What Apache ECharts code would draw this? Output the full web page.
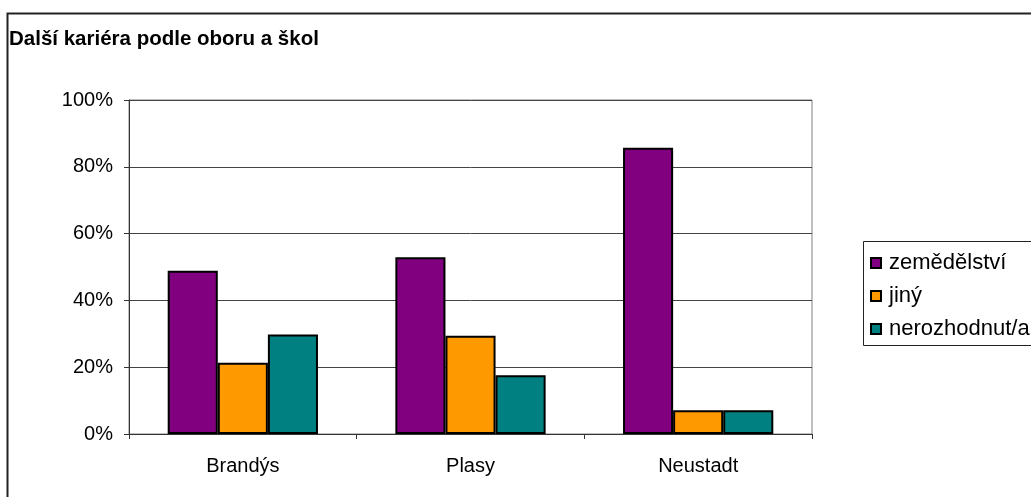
<!DOCTYPE html>
<html>
<head>
<meta charset="utf-8">
<script src="https://cdn.jsdelivr.net/npm/echarts@6/dist/echarts.min.js"></script>
<style>
  html, body { margin: 0; padding: 0; background: #fff; }
  #chart { width: 1031px; height: 497px; }
</style>
</head>
<body>
<div id="chart"></div>
<script>
  // kategorie (školy)
  var schools = ["Brandýs", "Plasy", "Neustadt"];
  // řady v procentech
  var zemedelstvi = [48.9, 52.9, 85.7];
  var jiny = [21.3, 29.4, 7.1];
  var nerozhodnut = [29.8, 17.6, 7.1];
  var seriesNames = ["zemědělství", "jiný", "nerozhodnut/a"];
  var colors = ["#800080", "#FF9900", "#008080"];
  var yTicks = [0, 20, 40, 60, 80, 100];

  var font = "Arial, 'Liberation Sans', sans-serif";
  var myChart = echarts.init(document.getElementById("chart"));

  var values = [zemedelstvi, jiny, nerozhodnut];
  var series = [];
  for (var i = 0; i < seriesNames.length; i++) {
    series.push({
      name: seriesNames[i],
      type: "bar",
      data: values[i],
      barGap: "0%",
      barCategoryGap: "34%",
      itemStyle: {
        color: colors[i],
        borderColor: "#000",
        borderWidth: 2,
      },
      emphasis: { disabled: true },
    });
  }

  var option = {
    animation: false,
    color: colors,
    title: {
      text: "Další kariéra podle oboru a škol",
      left: 9,
      top: 29,
      padding: 0,
      textStyle: {
        fontFamily: font,
        fontSize: 20.5,
        fontWeight: "bold",
        color: "#000",
      },
    },
    grid: {
      left: 129,
      top: 100,
      right: 219,
      bottom: 63,
      show: true,
      borderColor: "#808080",
      borderWidth: 1,
    },
    legend: {
      orient: "vertical",
      left: 870,
      top: 252,
      padding: 0,
      itemGap: 11,
      itemWidth: 10,
      itemHeight: 10,
      icon: "rect",
      data: seriesNames,
      itemStyle: { borderColor: "#000", borderWidth: 2 },
      textStyle: {
        fontFamily: font,
        fontSize: 22,
        color: "#000",
        padding: [0, 0, 0, 3],
      },
    },
    xAxis: {
      type: "category",
      data: schools,
      axisLine: { lineStyle: { color: "#333", width: 1 } },
      axisTick: { show: true, length: 5, inside: false, lineStyle: { color: "#333" } },
      axisLabel: {
        margin: 22,
        fontFamily: font,
        fontSize: 20,
        color: "#000",
      },
      splitLine: { show: false },
    },
    yAxis: {
      type: "value",
      min: yTicks[0],
      max: yTicks[yTicks.length - 1],
      interval: 20,
      axisLine: { show: true, lineStyle: { color: "#333", width: 1 } },
      axisTick: { show: true, length: 5, inside: false, lineStyle: { color: "#333" } },
      axisLabel: {
        margin: 16,
        fontFamily: font,
        fontSize: 20,
        color: "#000",
        formatter: "{value}%",
      },
      splitLine: { show: true, lineStyle: { color: "#444", width: 1 } },
    },
    graphic: [
      {
        // rámeček grafu
        type: "rect",
        shape: { x: 7.5, y: 13.5, width: 1100, height: 600 },
        style: { fill: "none", stroke: "#222", lineWidth: 2 },
        silent: true,
      },
      {
        // rámeček legendy
        type: "rect",
        shape: { x: 863.5, y: 241.5, width: 300, height: 104 },
        style: { fill: "none", stroke: "#222", lineWidth: 1 },
        silent: true,
      },
    ],
    series: series,
  };

  myChart.setOption(option);
</script>
</body>
</html>
